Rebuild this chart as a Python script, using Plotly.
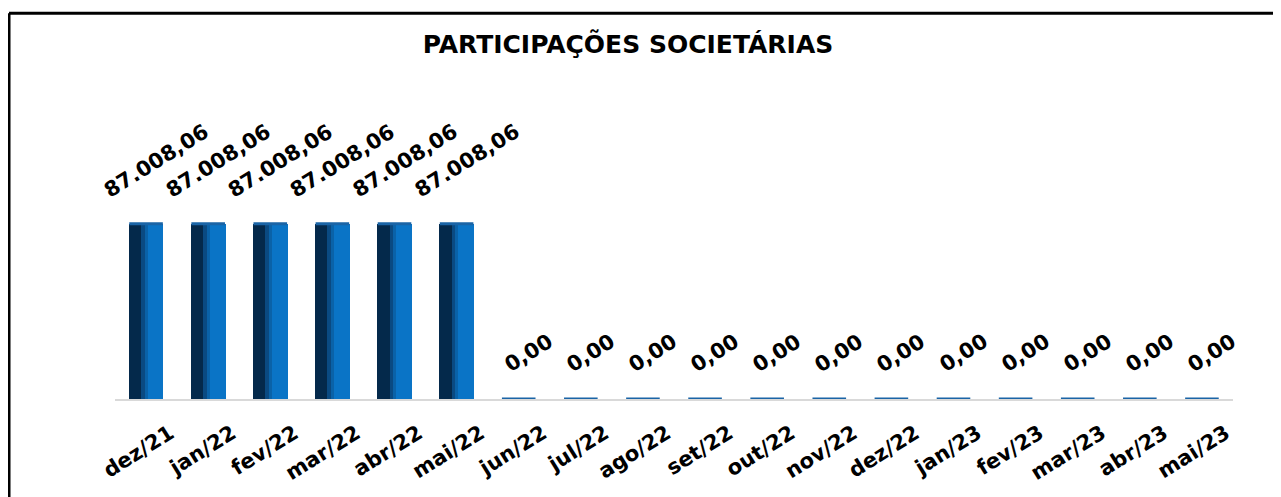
import plotly.graph_objects as go

# monthly balance of "participações societárias"
months = ['dez/21', 'jan/22', 'fev/22', 'mar/22', 'abr/22', 'mai/22',
          'jun/22', 'jul/22', 'ago/22', 'set/22', 'out/22', 'nov/22',
          'dez/22', 'jan/23', 'fev/23', 'mar/23', 'abr/23', 'mai/23']
balance = [87008.06, 87008.06, 87008.06, 87008.06, 87008.06, 87008.06,
           0, 0, 0, 0, 0, 0, 0, 0, 0, 0, 0, 0]

TITLE = 'PARTICIPAÇÕES SOCIETÁRIAS'
FONT = 'DejaVu Sans'


def br_money(v):
    s = f'{v:,.2f}'
    return s.replace(',', 'X').replace('.', ',').replace('X', '.')


fig = go.Figure()

# fake cylinder: bright body, dark left side, soft transition strip
fig.add_bar(x=months, y=balance, width=0.56, offset=-0.28,
            marker=dict(color='#0a74c6', line=dict(width=0)))
fig.add_bar(x=months, y=balance, width=0.2, offset=-0.28,
            marker=dict(color='#04294b', line=dict(width=0)))
fig.add_bar(x=months, y=balance, width=0.06, offset=-0.08,
            marker=dict(color='#0a4a82', line=dict(width=0)))
fig.add_bar(x=months, y=balance, width=0.05, offset=-0.02,
            marker=dict(color='#0a62a8', line=dict(width=0)))

# cap / base ellipse of each cylinder
fig.add_scatter(x=months, y=balance, mode='markers',
                marker=dict(symbol='line-ew', size=24, color='#1a64a6',
                            line=dict(width=3, color='#1a64a6')),
                hoverinfo='skip')

for m, v in zip(months, balance):
    fig.add_annotation(x=m, y=v, text=br_money(v), showarrow=False,
                       textangle=-32, xanchor='center', yanchor='bottom',
                       xshift=10, yshift=19,
                       font=dict(family=FONT, size=21, color='black', weight='bold'))

# outer chart frame (top and left edges only visible)
fig.add_shape(type='line', xref='paper', yref='paper', x0=-0.0948, x1=1.1,
              y0=1.29, y1=1.29, line=dict(color='black', width=3))
fig.add_shape(type='line', xref='paper', yref='paper', x0=-0.0948, x1=-0.0948,
              y0=1.29, y1=-0.4, line=dict(color='black', width=3))

# page body has an 8px margin, so everything is laid out 8px up/left
fig.update_layout(
    width=1273, height=489,
    margin=dict(l=107, r=48, t=92, b=88),
    paper_bgcolor='white', plot_bgcolor='white',
    barmode='overlay', showlegend=False, bargap=0,
    title=dict(text=TITLE, x=0.487, xanchor='center', y=0.925, yanchor='middle',
               xref='container', yref='container',
               font=dict(family=FONT, size=25, color='black', weight='bold')),
    xaxis=dict(type='category', range=[-0.5, 17.5], showgrid=False,
               showline=True, linecolor='#d9d9d9', linewidth=2,
               ticks='', tickangle=-32, ticklabelstandoff=12, ticklabelshift=24,
               tickfont=dict(family=FONT, size=21, color='black', weight='bold')),
    yaxis=dict(range=[0, 148500], visible=False, showgrid=False, zeroline=False),
)

fig.write_html('out.html')
